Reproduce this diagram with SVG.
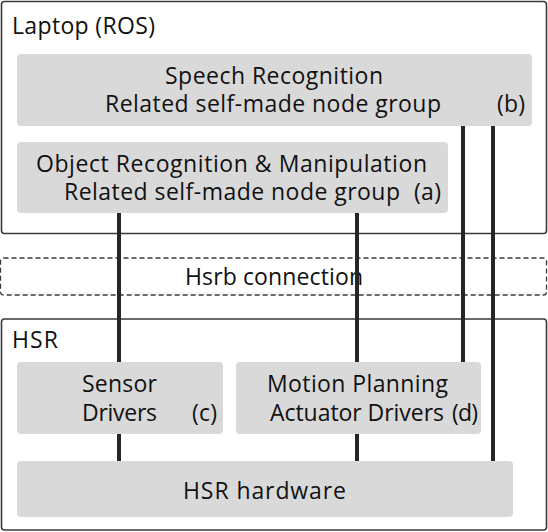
<svg xmlns="http://www.w3.org/2000/svg" width="548" height="532" viewBox="0 0 548 532">
<style>
.frame{fill:#fff;stroke:#3a3a3a;stroke-width:1.6}
.dash{fill:#fff;stroke:#3a3a3a;stroke-width:1.3;stroke-dasharray:5 3}
.box{fill:#d9d9d9}
.wire{stroke:#262626;stroke-width:4;fill:none}
text{font-family:"Open Sans","Noto Sans",sans-serif;font-size:23px;fill:#111}
</style>
<rect width="548" height="532" fill="#fff"/>
<g id="laptop">
<rect class="frame" x="1.5" y="1.5" width="545" height="232" rx="3"/>
<text x="12" y="34" textLength="143">Laptop (ROS)</text>
</g>
<g id="hsrb">
<rect class="dash" x="0.5" y="258" width="546" height="37" rx="3"/>
<text x="185" y="285" textLength="178">Hsrb connection</text>
</g>
<g id="hsr">
<rect class="frame" x="1.5" y="319" width="545" height="211" rx="3"/>
<text x="12" y="348" textLength="46">HSR</text>
</g>
<g id="connectors">
<line class="wire" x1="119" y1="213" x2="119" y2="462"/>
<line class="wire" x1="357" y1="213" x2="357" y2="462"/>
<line class="wire" x1="463" y1="126" x2="463" y2="363"/>
<line class="wire" x1="493" y1="126" x2="493" y2="462"/>
</g>
<g id="speech">
<rect class="box" x="17" y="54" width="515" height="72" rx="4"/>
<text x="165" y="84" textLength="218">Speech Recognition</text>
<text x="105" y="112" textLength="336">Related self-made node group</text>
<text x="497" y="112" textLength="28">(b)</text>
</g>
<g id="object">
<rect class="box" x="17" y="142" width="431" height="71" rx="4"/>
<text x="36" y="172" textLength="391">Object Recognition &amp; Manipulation</text>
<text x="64" y="200" textLength="336">Related self-made node group</text>
<text x="414" y="200" textLength="27">(a)</text>
</g>
<g id="sensor">
<rect class="box" x="17" y="362" width="206" height="72" rx="4"/>
<text x="82" y="392" textLength="75">Sensor</text>
<text x="82" y="421" textLength="75">Drivers</text>
<text x="192" y="421" textLength="25">(c)</text>
</g>
<g id="motion">
<rect class="box" x="236" y="362" width="245" height="72" rx="4"/>
<text x="267" y="392" textLength="181">Motion Planning</text>
<text x="270" y="421" textLength="174">Actuator Drivers</text>
<text x="452" y="421" textLength="26">(d)</text>
</g>
<g id="hardware">
<rect class="box" x="17" y="461" width="496" height="56" rx="4"/>
<text x="183" y="499" textLength="163">HSR hardware</text>
</g>
</svg>
